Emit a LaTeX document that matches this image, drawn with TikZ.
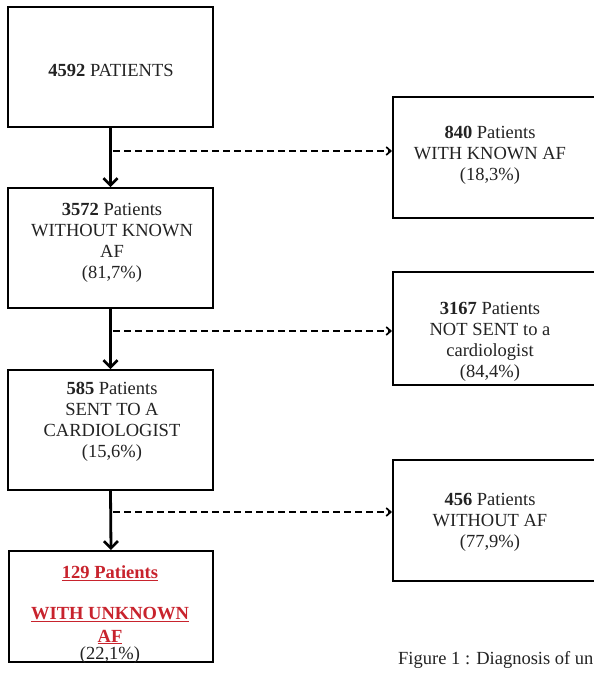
\documentclass[tikz,border=0pt]{standalone}
\usepackage{fontspec}
\setmainfont{Liberation Serif}
\usetikzlibrary{arrows.meta,calc}
\definecolor{txt}{RGB}{35,35,35}
\definecolor{redtxt}{RGB}{200,35,45}
\tikzset{
  box/.style={draw=black,line width=2pt,rectangle,inner sep=0pt},
  label/.style={text=txt,align=center,font=\fontsize{18.5}{21}\selectfont,inner sep=0pt},
  mainarrow/.style={draw=black,line width=2.8pt,-{Straight Barb[length=7pt,width=14pt,line width=2.6pt]}},
  sidearrow/.style={draw=black,line width=1.7pt,dash pattern=on 7pt off 4pt,-{Straight Barb[length=4.5pt,width=8pt,line width=1.7pt]}}
}
\begin{document}
\begin{tikzpicture}[x=1pt,y=-1pt]
\useasboundingbox (0,0) rectangle (594,673);
\clip (0,0) rectangle (594,673);
\fill[white] (0,0) rectangle (594,673);
% left column boxes
\node[box,minimum width=205pt,minimum height=120pt] (b1) at (110.5,67) {};
\node[box,minimum width=205pt,minimum height=120pt] (b2) at (110.5,248) {};
\node[box,minimum width=205pt,minimum height=120pt] (b3) at (110.5,430) {};
\node[box,minimum width=204pt,minimum height=111pt] (b4) at (111,606.5) {};
% right column boxes
\node[box,minimum width=210pt,minimum height=121pt] (r1) at (498,157.5) {};
\node[box,minimum width=210pt,minimum height=113pt] (r2) at (498,328.5) {};
\node[box,minimum width=210pt,minimum height=121pt] (r3) at (498,520.5) {};
% texts
\node[label] (t1) at (111,70) {\textbf{4592} PATIENTS};
\node[label] (t2) at (112,243) {\textbf{3572} Patients\\WITHOUT KNOWN\\AF\\(81,7\%)};
\node[label] (t3) at (112,422) {\textbf{585} Patients\\SENT TO A\\CARDIOLOGIST\\(15,6\%)};
\node[label,text=redtxt] (t4a) at (110,573) {\textbf{\underline{129 Patients}}};
\node[label,text=redtxt] (t4b) at (110,615) {\textbf{\underline{WITH UNKNOWN}}};
\node[label,text=redtxt] (t4c) at (110,637) {\textbf{\underline{AF}}};
\node[label] (t4d) at (110,655) {(22,1\%)};
\node[label] (tr1) at (490,155) {\textbf{840} Patients\\WITH KNOWN AF\\(18,3\%)};
\node[label] (tr2) at (490,342) {\textbf{3167} Patients\\NOT SENT to a\\cardiologist\\(84,4\%)};
\node[label] (tr3) at (490,522) {\textbf{456} Patients\\WITHOUT AF\\(77,9\%)};
\node[anchor=base west,inner sep=0pt,text=txt,font=\fontsize{18.5}{21}\selectfont] (cap) at (398,664) {Figure 1 : Diagnosis of un};
% main arrows
\draw[mainarrow] (b1.south) -- (b2.north);
\draw[mainarrow] (b2.south) -- (b3.north);
\draw[mainarrow] (b3.south) -- (b4.north);
% side arrows
\coordinate (s1) at (113,151);
\coordinate (s2) at (113,331);
\coordinate (s3) at (113,512);
\draw[sidearrow] (s1) -- (s1 -| r1.west);
\draw[sidearrow] (s2) -- (s2 -| r2.west);
\draw[sidearrow] (s3) -- (s3 -| r3.west);
\end{tikzpicture}
\end{document}
